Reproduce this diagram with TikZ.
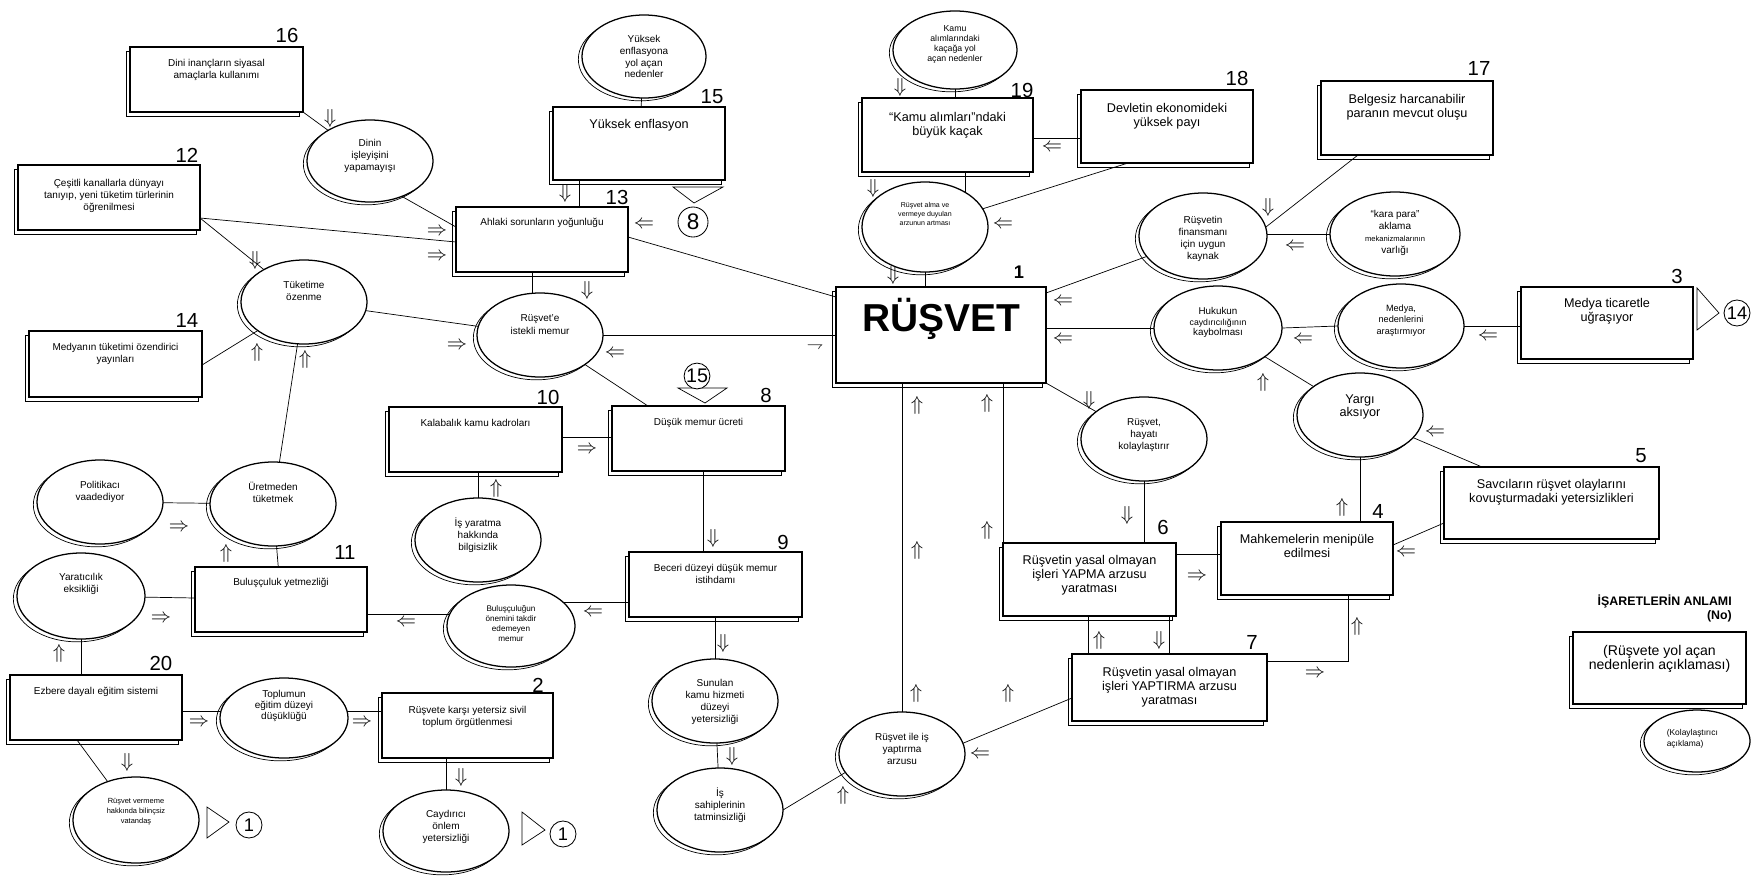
\documentclass[tikz,border=0pt]{standalone}
\usepackage{fontspec}
\setmainfont{Liberation Sans}
\usetikzlibrary{shapes.geometric,shadows,positioning,calc}

\begin{document}
\begin{tikzpicture}[
    x=0.025cm, y=-0.025cm,
    box/.style={rectangle, draw, line width=0.9pt, fill=white, inner sep=0pt, outer sep=0pt,
        minimum width=4.3cm, minimum height=1.625cm,
        general shadow={shadow xshift=-2.6pt, shadow yshift=-3.2pt, draw, fill=white, line width=0.5pt}},
    tall/.style={minimum height=1.825cm},
    ell/.style={ellipse, draw, line width=0.9pt, fill=white, inner sep=0pt, outer sep=0pt,
        minimum width=3.15cm, minimum height=2.1cm,
        general shadow={shadow xshift=-2.6pt, shadow yshift=-2pt, draw, fill=white, line width=0.5pt}},
    sm/.style={font=\fontsize{7.1}{8.5}\selectfont},
    md/.style={font=\fontsize{9}{9.9}\selectfont},
    intxt/.style={anchor=north, inner sep=0pt, align=center, yshift=-8.7pt},
    etxt/.style={anchor=center, inner sep=0pt, align=center},
    num/.style={font=\fontsize{14.5}{15}\selectfont, inner sep=0pt},
    sym/.style={font=\fontsize{15}{15}\selectfont, inner sep=0pt},
    ring/.style={circle, draw, line width=0.6pt, inner sep=0pt, minimum size=0.65cm, font=\fontsize{13}{13}\selectfont},
    link/.style={line width=0.5pt}
]
    \useasboundingbox (0,0) rectangle (1760,875);

    % boxes
    \node[box, minimum width=4.325cm, label={[intxt,sm]north:Dini inançların siyasal\\amaçlarla kullanımı}] (b16) at (216.5,79.5) {};
    \node[box, minimum width=4.55cm, label={[intxt,sm,yshift=-1.5pt]north:{Çeşitli kanallarla dünyayı\\tanıyıp, yeni tüketim türlerinin\\öğrenilmesi}}] (b12) at (109,197.5) {};
    \node[box, tall, label={[intxt,md]north:Yüksek enflasyon}] (b15) at (639,143.5) {};
    \node[box, label={[intxt,sm,yshift=0.7pt]north:Ahlaki sorunların yoğunluğu}] (b13) at (542,239.5) {};
    \node[box, minimum width=4.275cm, minimum height=1.85cm, label={[intxt,md,yshift=-1.5pt]north:“Kamu alımları”ndaki\\büyük kaçak}] (b19) at (947.5,135) {};
    \node[box, tall, label={[intxt,md,yshift=-0.8pt]north:Devletin ekonomideki\\yüksek payı}] (b18) at (1167,126.5) {};
    \node[box, minimum height=1.85cm, label={[intxt,md,yshift=-0.8pt]north:Belgesiz harcanabilir\\paranın mevcut oluşu}] (b17) at (1407,118) {};
    \node[box, minimum width=5.25cm, minimum height=2.4cm,
        label={[etxt,font=\fontsize{27.7}{30}\selectfont\bfseries,yshift=11.4pt]center:RÜŞVET}] (b1) at (941,335) {};
    \node[box, minimum height=1.8cm, label={[intxt,md,yshift=0.6pt]north:Medya ticaretle\\uğraşıyor}] (b3) at (1607,323) {};
    \node[box, minimum width=5.375cm, minimum height=1.8cm, label={[intxt,md]north:Savcıların rüşvet olaylarını\\kovuşturmadaki yetersizlikleri}] (b5) at (1551.5,503) {};
    \node[box, tall, label={[intxt,md]north:Mahkemelerin menipüle\\edilmesi}] (b4) at (1307,558.5) {};
    \node[box, tall, minimum width=4.325cm, label={[intxt,md]north:Rüşvetin yasal olmayan\\işleri YAPMA arzusu\\yaratması}] (b6) at (1089.5,579.5) {};
    \node[box, minimum width=4.875cm, minimum height=1.675cm, label={[intxt,md,yshift=-0.8pt]north:Rüşvetin yasal olmayan\\işleri YAPTIRMA arzusu\\yaratması}] (b7) at (1169.5,687.5) {};
    \node[box, minimum width=4.325cm, label={[intxt,sm]north:Düşük memur ücreti}] (b8) at (698.5,438.5) {};
    \node[box, minimum width=4.325cm, label={[intxt,sm]north:Kalabalık kamu kadroları}] (b10) at (475.5,439.5) {};
    \node[box, minimum width=4.325cm, label={[intxt,sm]north:Beceri düzeyi düşük memur\\istihdamı}] (b9) at (715.5,584.5) {};
    \node[box, minimum width=4.325cm, minimum height=1.65cm, label={[intxt,sm]north:Medyanın tüketimi özendirici\\yayınları}] (b14) at (115.5,364) {};
    \node[box, label={[intxt,sm,yshift=0.7pt]north:Buluşçuluk yetmezliği}] (b11) at (281,599.5) {};
    \node[box, label={[intxt,sm]north:Ezbere dayalı eğitim sistemi}] (b20) at (96,707.5) {};
    \node[box, minimum width=4.275cm, label={[intxt,sm,yshift=-0.8pt]north:Rüşvete karşı yetersiz sivil\\toplum örgütlenmesi}] (b2) at (467.5,725.5) {};

    % ellipses
    \node[ell, minimum width=3.1cm, minimum height=2.075cm, label={[etxt,sm]center:Yüksek\\enflasyona\\yol açan\\nedenler}] (eyenf) at (644,56.5) {};
    \node[ell, minimum width=3.1cm, minimum height=1.95cm, label={[etxt,font=\fontsize{6.2}{7.1}\selectfont,yshift=3.9pt]center:Kamu\\alımlarındaki\\kaçağa yol\\açan nedenler}] (ekamu) at (955,50) {};
    \node[ell, minimum height=2.05cm, label={[etxt,sm,yshift=3.6pt]center:Dinin\\işleyişini\\yapamayışı}] (edin) at (370,161) {};
    \node[ell, minimum height=2.25cm, label={[etxt,font=\fontsize{5}{6.4}\selectfont,yshift=9.2pt]center:Rüşvet alma ve\\vermeye duyulan\\arzunun artması}] (eistek) at (925,227) {};
    \node[ell, minimum width=3.2cm, minimum height=2.15cm, label={[etxt,sm,yshift=-1.8pt]center:Rüşvetin\\finansmanı\\için uygun\\kaynak}] (efin) at (1203,236) {};
    \node[ell, minimum width=3.25cm, label={[etxt,sm,yshift=1pt]center:“kara para”\\aklama\\{\fontsize{5.4}{6}\selectfont mekanizmalarının}\\varlığı}] (ekara) at (1395,234) {};
    \node[ell, minimum width=3.2cm, label={[etxt,font=\fontsize{7}{7.5}\selectfont,yshift=3.9pt]center:Hukukun\\{\fontsize{6.2}{7}\selectfont caydırıcılığının}\\kaybolması}] (ehuk) at (1218,328) {};
    \node[ell, label={[etxt,font=\fontsize{6.5}{8.2}\selectfont,yshift=3.9pt]center:Medya,\\nedenlerini\\araştırmıyor}] (emedya) at (1401,326) {};
    \node[ell, label={[etxt,md,yshift=5.7pt]center:Yargı\\aksıyor}] (eyargi) at (1360,415) {};
    \node[ell, label={[etxt,sm,yshift=2.5pt]center:Rüşvet,\\hayatı\\kolaylaştırır}] (ehayat) at (1144,439) {};
    \node[ell, label={[etxt,font=\fontsize{7.1}{9.2}\selectfont,yshift=7.5pt]center:Rüşvet’e\\istekli memur}] (eiste) at (540,335) {};
    \node[ell, label={[etxt,sm,yshift=7.8pt]center:Tüketime\\özenme}] (etuk) at (304,302) {};
    \node[ell, label={[etxt,sm,yshift=8.2pt]center:Üretmeden\\tüketmek}] (euret) at (273,504) {};
    \node[ell, label={[etxt,sm,yshift=7.5pt]center:Politikacı\\vaadediyor}] (epol) at (100,502) {};
    \node[ell, label={[etxt,sm,yshift=3.6pt]center:İş yaratma\\hakkında\\bilgisizlik}] (eisyar) at (478,540) {};
    \node[ell, label={[etxt,sm,yshift=-0.7pt]center:Sunulan\\kamu hizmeti\\düzeyi\\yetersizliği}] (esun) at (715,701) {};
    \node[ell, label={[etxt,sm,yshift=3.6pt]center:İş\\sahiplerinin\\tatminsizliği}] (eissah) at (720,810) {};
    \node[ell, label={[etxt,sm,yshift=3.6pt]center:Rüşvet ile iş\\yaptırma\\arzusu}] (eyapt) at (902,754) {};
    \node[ell, minimum width=3.2cm, minimum height=2.05cm, label={[etxt,font=\fontsize{5.8}{7.1}\selectfont,yshift=2.1pt]center:Buluşçuluğun\\önemini takdir\\edemeyen\\memur}] (ebulus) at (511,626) {};
    \node[ell, minimum width=3.2cm, minimum height=2.15cm, label={[etxt,sm,yshift=8.5pt]center:Yaratıcılık\\eksikliği}] (eyarat) at (81,596) {};
    \node[ell, minimum width=3.2cm, minimum height=2cm, label={[etxt,font=\fontsize{7.1}{7.8}\selectfont,yshift=8.5pt]center:Toplumun\\eğitim düzeyi\\düşüklüğü}] (etop) at (284,718) {};
    \node[ell, minimum height=2.05cm, label={[etxt,sm,yshift=3.2pt]center:Caydırıcı\\önlem\\yetersizliği}] (ecayd) at (446,831) {};
    \node[ell, minimum height=2.15cm, label={[etxt,font=\fontsize{5.3}{7}\selectfont,yshift=5.7pt]center:Rüşvet vermeme\\hakkında bilinçsiz\\vatandaş}] (ever) at (136,820) {};

    % numbers
    \foreach \x/\y/\t in {287/35/16, 187/155/12, 712/97/15, 617/197/13, 1022/90/19, 1237/78/18,
        1479/68/17, 1677/276/3, 1641/456/5, 1378/511/4, 1163/527/6, 1252/642/7, 766/395/8,
        548/397/10, 783/542/9, 187/320/14, 345/552/11, 161/663/20, 538/685/2}
        \node[num] (n\t) at (\x,\y) {\t};
    \node[num, font=\fontsize{13}{13}\selectfont\bfseries] (n1) at (1019,272) {1};

    % pointers to other boxes
    \draw[link] (673,187) -- (723,187) -- (694,203) -- cycle;
    \node[ring, minimum size=0.75cm, font=\fontsize{16}{16}\selectfont] (c8) at (693,222) {8};
    \draw[link] (678,388) -- (727,388) -- (705,403) -- cycle;
    \node[ring, fill=white, minimum size=0.62cm, font=\fontsize{14}{14}\selectfont] (c15) at (697,376) {15};
    \draw[link] (1697,288) -- (1719,313) -- (1697,330) -- cycle;
    \node[ring] (c14) at (1737,313) {14};
    \draw[link] (207,807) -- (229,822) -- (207,838) -- cycle;
    \node[ring] (c1a) at (249,825) {1};
    \draw[link] (522,812) -- (545,830) -- (522,845) -- cycle;
    \node[ring] (c1b) at (563,834) {1};

    % connectors
    \draw[link] (eyenf) -- (b15);
    \draw[link] (b15.south -| 579,0) -- (b13.north -| 579,0);
    \draw[link] (b16.south east) -- (edin);
    \draw[link] (edin.312) -- (b13.west |- 0,227);
    \draw[link] (b12.east |- 0,218) -- (b13.west |- 0,242);
    \draw[link] (b12.east |- 0,218) -- (etuk);
    \draw[link] (b14.east |- 0,365) -- (etuk);
    \draw[link] (etuk) -- (euret);
    \draw[link] (etuk) -- (eiste);
    \draw[link] (epol) -- (euret);
    \draw[link] (euret) -- (b11);
    \draw[link] (eyarat) -- (b11);
    \draw[link] (ebulus.169) -- (b11.east |- ebulus.169);
    \draw[link] (b9.west |- ebulus.24) -- (ebulus.24);
    \draw[link] (eyarat.south) -- (eyarat.south |- b20.north);
    \draw[link] (etop.174) -- (b20.east |- etop.174);
    \draw[link] (etop.6) -- (b2.west |- etop.6);
    \draw[link] (ecayd.north) -- (ecayd.north |- b2.south);
    \draw[link] (b20.south -| 77,0) -- (ever);
    \draw[link] (b10.east |- 0,437) -- (b8.west |- 0,437);
    \draw[link] (eisyar.north) -- (eisyar.north |- b10.south);
    \draw[link] (b8.north -| 648,0) -- (eiste);
    \draw[link] (b8.south -| 703,0) -- (b9.north -| 703,0);
    \draw[link] (b13.south -| 532,0) -- (eiste.north -| 532,0);
    \draw[link] (b13.east |- 0,237) -- (b1.west |- 0,297);
    \draw[link] (eiste.east) -- (b1.west |- eiste.east);
    \draw[link] (esun.north) -- (esun.north |- b9.south);
    \draw[link] (esun) -- (eissah);
    \draw[link] (eissah.east) -- (eyapt.198);
    \draw[link] (eyapt.north) -- (eyapt.north |- b1.south);
    \draw[link] (b6.north west) -- (b6.west |- b1.south);
    \draw[link] (b7.west |- 0,698) -- (eyapt.10);
    \draw[link] (b1.south east) -- (ehayat);
    \draw[link] (ehayat.south) -- (ehayat.south |- b6.north);
    \draw[link] (b6.east |- 0,554) -- (b4.west |- 0,554);
    \draw[link] (b6.south -| 1088,0) -- (b7.north -| 1088,0);
    \draw[link] (b6.south -| 1169,0) -- (b7.north -| 1169,0);
    \draw[link] (b7.east |- 0,661) -| (b4.south -| 1348,0);
    \draw[link] (b1.east |- 0,293) -- (efin);
    \draw[link] (b17.south -| 1358,0) -- (efin.8);
    \draw[link] (ekara.west) -- (ekara.west -| efin.east);
    \draw[link] (b18.west |- 0,138) -- (b19.east |- 0,138);
    \draw[link] (b18.south -| 1128,0) -- (eistek);
    \draw[link] (ekamu.south) -- (ekamu.south |- b19.north);
    \draw[link] (b19.south -| eistek.41) -- (eistek.41);
    \draw[link] (eistek.south) -- (eistek.south |- b1.north);
    \draw[link] (b1.east |- ehuk.west) -- (ehuk.west);
    \draw[link] (ehuk.east) -- (emedya.west);
    \draw[link] (emedya.east) -- (b3.west |- emedya.east);
    \draw[link] (ehuk) -- (eyargi);
    \draw[link] (eyargi) -- (b5.north -| 1482,0);
    \draw[link] (eyargi.south) -- (eyargi.south |- b4.north);
    \draw[link] (b5.west |- 0,523) -- (b4.east |- 0,545);

    % direction marks
    \foreach \x/\y [count=\i] in {330/118, 255/260, 565/193, 587/290, 900/87, 873/188, 893/275, 1268/207,
        1089/400, 1127/515, 1159/640, 713/538, 723/643, 732/756, 127/762, 461/777}
        \node[sym] (dn\i) at (\x,\y) {$\Downarrow$};
    \foreach \x/\y [count=\i] in {644/225, 1052/148, 1003/225, 1063/302, 1063/340, 1295/247, 1303/340,
        1488/337, 1435/433, 1406/553, 615/354, 593/613, 406/623, 980/755}
        \node[sym] (lf\i) at (\x,\y) {$\Leftarrow$};
    \foreach \x/\y [count=\i] in {437/232, 437/257, 457/346, 587/450, 1197/577, 1315/674, 179/528,
        161/619, 199/723, 362/723}
        \node[sym] (rt\i) at (\x,\y) {$\Rightarrow$};
    \foreach \x/\y [count=\i] in {257/352, 305/359, 496/488, 226/553, 59/653, 917/405, 917/550, 916/693,
        987/403, 987/530, 1008/693, 843/795, 1099/640, 1357/626, 1263/382, 1342/507}
        \node[sym] (up\i) at (\x,\y) {$\Uparrow$};
    \node[sym, font=\fontsize{13}{13}\selectfont] (hp) at (815,346) {$\rightharpoondown$};

    % legend
    \node[font=\fontsize{8.8}{10}\selectfont\bfseries, align=right, anchor=north east, inner sep=0pt] (legt) at (1732,595) {İŞARETLERİN ANLAMI\\(No)};
    \node[box, minimum width=4.325cm, minimum height=1.8cm,
        label={[intxt,font=\fontsize{10}{9.4}\selectfont,yshift=-0.8pt]north:(Rüşvete yol açan\\nedenlerin açıklaması)}] (bleg) at (1659.5,668) {};
    \node[ell, minimum width=2.65cm, minimum height=1.55cm,
        label={[anchor=west, align=left, inner sep=0pt, font=\fontsize{6}{7.8}\selectfont, xshift=16pt, yshift=1.8pt]west:(Kolaylaştırıcı\\açıklama)}] (eleg) at (1697,741) {};

\end{tikzpicture}
\end{document}
